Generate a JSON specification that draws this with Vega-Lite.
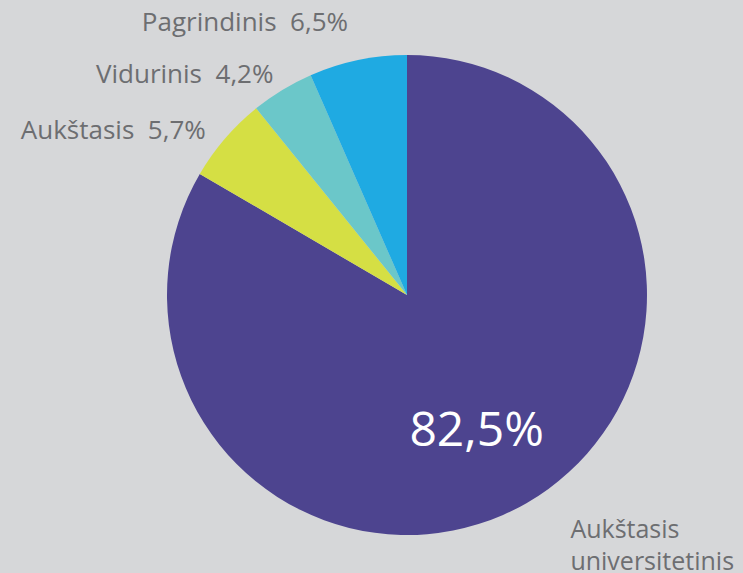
{
  "$schema": "https://vega.github.io/schema/vega-lite/v6.json",
  "autosize": "none",
  "width": 480,
  "height": 480,
  "padding": {"left": 167, "top": 55, "right": 96, "bottom": 38},
  "background": "#d6d7d9",
  "config": {"view": {"stroke": null}},
  "data": {
    "values": [
      {"idx": 1, "category": "Aukštasis universitetinis", "share": 82.5, "outer": "", "inner": "82,5%", "name": "Aukštasis\nuniversitetinis"},
      {"idx": 2, "category": "Aukštasis", "share": 5.7, "outer": "Aukštasis\u00a0 5,7%", "inner": "", "name": ""},
      {"idx": 3, "category": "Vidurinis", "share": 4.2, "outer": "Vidurinis\u00a0 4,2%", "inner": "", "name": ""},
      {"idx": 4, "category": "Pagrindinis", "share": 6.5, "outer": "Pagrindinis\u00a0 6,5%", "inner": "", "name": ""}
    ]
  },
  "encoding": {
    "theta": {"field": "share", "type": "quantitative", "stack": true},
    "order": {"field": "idx", "type": "quantitative"}
  },
  "layer": [
    {
      "mark": {"type": "arc", "outerRadius": 240},
      "encoding": {
        "color": {
          "field": "category",
          "type": "nominal",
          "scale": {
            "domain": ["Aukštasis universitetinis", "Aukštasis", "Vidurinis", "Pagrindinis"],
            "range": ["#4d448f", "#d5df44", "#6bc7c9", "#1faae2"]
          },
          "legend": null
        }
      }
    },
    {
      "mark": {"type": "text", "radius": 278, "dx": -2, "align": "right", "baseline": "middle", "font": "Open Sans", "fontSize": 26, "color": "#6d6e71"},
      "encoding": {"text": {"condition": {"test": "datum.idx == 4", "field": "outer"}, "value": ""}}
    },
    {
      "mark": {"type": "text", "radius": 257, "align": "right", "baseline": "middle", "font": "Open Sans", "fontSize": 26, "color": "#6d6e71"},
      "encoding": {"text": {"condition": {"test": "datum.idx == 3", "field": "outer"}, "value": ""}}
    },
    {
      "mark": {"type": "text", "radius": 264, "dy": 8, "dx": -1, "align": "right", "baseline": "middle", "font": "Open Sans", "fontSize": 26, "color": "#6d6e71"},
      "encoding": {"text": {"condition": {"test": "datum.idx == 2", "field": "outer"}, "value": ""}}
    },
    {
      "mark": {"type": "text", "radius": 158, "dx": -9, "align": "center", "baseline": "middle", "font": "Open Sans", "fontSize": 48, "color": "#ffffff"},
      "encoding": {"text": {"field": "inner"}}
    },
    {
      "mark": {"type": "text", "radius": 272, "dx": 28, "dy": -1, "align": "left", "baseline": "middle", "lineBreak": "\n", "lineHeight": 32, "font": "Open Sans", "fontSize": 25, "color": "#6d6e71"},
      "encoding": {"text": {"field": "name"}}
    }
  ]
}
